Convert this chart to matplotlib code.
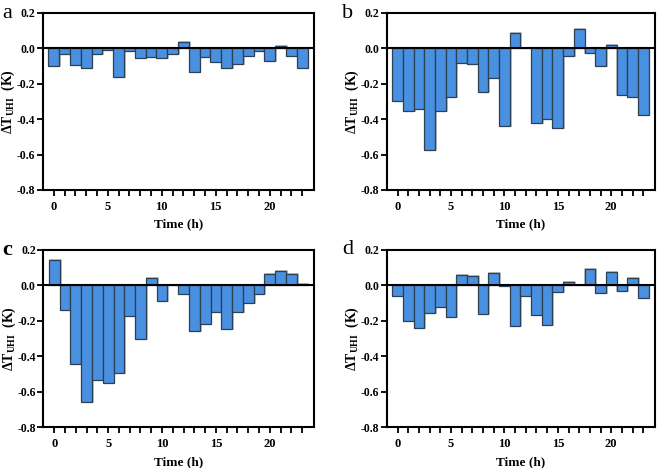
import numpy as np
import matplotlib
matplotlib.use("Agg")
import matplotlib.pyplot as plt

hours = list(range(24))

vals_a = [-0.102, -0.034, -0.096, -0.111, -0.034, -0.011, -0.164, -0.017, -0.053, -0.049, -0.053, -0.034,
          0.032, -0.134, -0.051, -0.079, -0.113, -0.091, -0.042, -0.017, -0.072, 0.013, -0.042, -0.111]
vals_b = [-0.300, -0.355, -0.342, -0.577, -0.357, -0.275, -0.083, -0.092, -0.245, -0.166, -0.438, 0.085,
          0.0, -0.420, -0.398, -0.453, -0.042, 0.106, -0.030, -0.098, 0.019, -0.264, -0.277, -0.377]
vals_c = [0.145, -0.139, -0.444, -0.656, -0.534, -0.551, -0.491, -0.173, -0.303, 0.043, -0.088, 0.005,
          -0.049, -0.258, -0.216, -0.152, -0.246, -0.150, -0.101, -0.047, 0.066, 0.079, 0.062, 0.011]
vals_d = [-0.058, -0.201, -0.242, -0.158, -0.122, -0.179, 0.058, 0.053, -0.162, 0.073, -0.005, -0.229,
          -0.062, -0.165, -0.222, -0.036, 0.019, 0.005, 0.092, -0.043, 0.075, -0.030, 0.041, -0.070]

panel_labels = ["a", "b", "c", "d"]
yticks = [-0.8, -0.6, -0.4, -0.2, 0.0, 0.2]

plt.rcParams['font.family'] = ['Liberation Serif', 'DejaVu Serif']
plt.rcParams['mathtext.fontset'] = 'custom'
plt.rcParams['mathtext.rm'] = 'Liberation Serif:bold'
plt.rcParams['mathtext.bf'] = 'Liberation Serif:bold'
plt.rcParams['mathtext.it'] = 'Liberation Serif:bold'

W, H = 660, 468
fig = plt.figure(figsize=(6.6, 4.68), dpi=100)

# axes boxes in pixels: left, top, right, bottom
boxes = [(43, 12.7, 314, 190), (387, 12.7, 655, 190),
         (43.5, 250, 314, 427.3), (387, 250, 655, 427.3)]
label_pos = [(2, 13), (342, 13), (2, 250), (342, 250)]
series = [vals_a, vals_b, vals_c, vals_d]

for i, (vals, box) in enumerate(zip(series, boxes)):
    l, t, r, b = box
    ax = fig.add_axes([l / W, 1 - b / H, (r - l) / W, (b - t) / H])
    ax.bar(np.array(hours) + 0.08, vals, width=1.0, color='none', edgecolor='#b8b8b8',
           linewidth=1.2, zorder=1)
    ax.bar(hours, vals, width=1.0, color='#4a90e0', edgecolor='#2b3f55', linewidth=0.9, zorder=2)
    ax.axhline(0, color='black', linewidth=1.5, zorder=3)
    ax.set_xlim(-1.0, 24.1)
    ax.set_ylim(-0.8, 0.2)
    ax.set_yticks(yticks)
    ax.set_yticklabels([f"{v:.1f}" for v in yticks], fontsize=8.5, fontweight='bold')
    ax.set_xticks(hours)
    ax.set_xticklabels([str(h) if h % 5 == 0 else "" for h in hours], fontsize=9, fontweight='bold')
    ax.tick_params(axis='both', direction='out', length=4, width=1.3)
    ax.tick_params(axis='y', pad=1.5)
    ax.tick_params(axis='x', pad=4)
    for s in ax.spines.values():
        s.set_linewidth(1.5)
    ax.set_xlabel("Time (h)", fontsize=9.5, fontweight='bold', labelpad=4)
    fig.text((l - 34.5) / W, 1 - ((t + b) / 2) / H, r"$\Delta\mathrm{T}_{\mathrm{UHI}}$  (K)",
             fontsize=10, fontweight='bold', rotation=90, ha='center', va='center')
    lx, ly = label_pos[i]
    fig.text(lx / W, 1 - ly / H, panel_labels[i], fontsize=16,
             fontweight='bold' if panel_labels[i] == 'c' else 'normal', ha='left', va='center')

fig.savefig("out.png", dpi=100)
